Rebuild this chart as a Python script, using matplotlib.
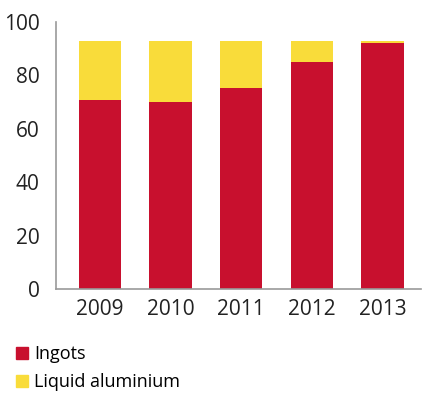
import numpy as np
import matplotlib.pyplot as plt
from matplotlib.lines import Line2D

years = ['2009', '2010', '2011', '2012', '2013']
ingots = [71, 70, 75.5, 85, 92.3]
liquid = [22, 23, 17.5, 8, 0.7]

red = '#c8102e'
yellow = '#f9dc3a'

plt.rcParams['font.family'] = ['Open Sans', 'DejaVu Sans']

fig = plt.figure(figsize=(4.22, 3.94), dpi=100)
ax = fig.add_axes([0.133, 0.266, 0.864, 0.678])

x = np.arange(len(years))
ax.bar(x, ingots, width=0.6, color=red)
ax.bar(x, liquid, width=0.6, bottom=ingots, color=yellow)

ax.set_xlim(-0.62, 4.54)
ax.set_ylim(0, 100)
ax.set_yticks([0, 20, 40, 60, 80, 100])
ax.set_xticks(x)
ax.set_xticklabels(years)
ax.tick_params(length=0, labelsize=15, colors='#222222', pad=7)
ax.tick_params(axis='y', pad=12)
for s in ['top', 'right']:
    ax.spines[s].set_visible(False)
for s in ['left', 'bottom']:
    ax.spines[s].set_color('#999999')
    ax.spines[s].set_linewidth(1.2)

# legend below the chart
handles = [Line2D([], [], marker='s', linestyle='none', color=red, markersize=8.5),
           Line2D([], [], marker='s', linestyle='none', color=yellow, markersize=8.5)]
fig.legend(handles, ['Ingots', 'Liquid aluminium'], loc='lower left',
           bbox_to_anchor=(0.0, -0.025), frameon=False, fontsize=13,
           handletextpad=0.2, labelspacing=0.55, borderpad=0.2, handlelength=1.0)

fig.savefig('out.png', dpi=100)
